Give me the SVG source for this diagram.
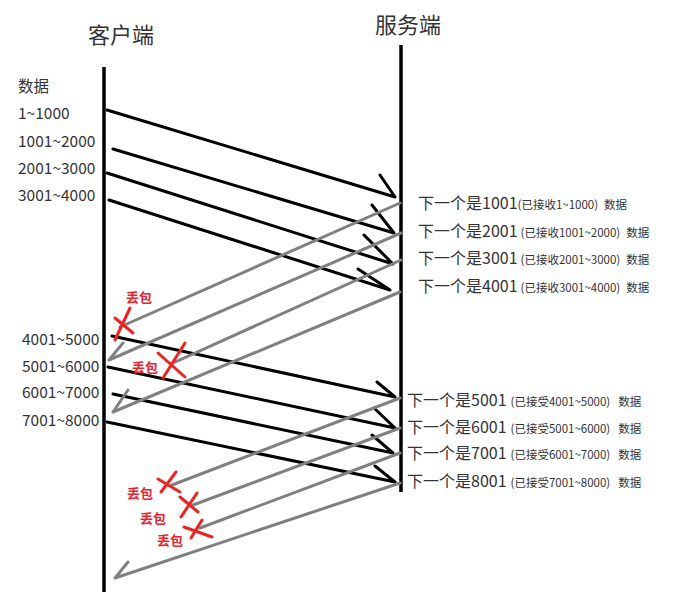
<svg xmlns="http://www.w3.org/2000/svg" width="682" height="600" viewBox="0 0 682 600">
<style>
text{font-family:"Noto Sans CJK SC","Noto Sans",sans-serif;fill:#333}
.title{font-size:22px}
.lbl{font-size:15.5px}
.ack{font-size:16px}
.sm{font-size:11.5px}
.lost{font-size:13px;font-weight:bold;fill:#e8232e}
.life{stroke:#000;stroke-width:3.5;fill:none}
.data{stroke:#000;stroke-width:3;fill:none;stroke-linecap:round}
.ackl{stroke:#808080;stroke-width:3;fill:none;stroke-linecap:round}
.x{stroke:#ee2222;stroke-width:3;fill:none;stroke-linecap:round}
</style>
<rect width="682" height="600" fill="#fff"/>
<g id="client">
<text class="title" x="88" y="43">客户端</text>
<line class="life" x1="104" y1="67" x2="104" y2="592"/>
</g>
<g id="server">
<text class="title" x="375" y="33">服务端</text>
<line class="life" x1="401" y1="45" x2="401" y2="492"/>
</g>
<g id="client-labels">
<text class="lbl" x="18" y="92">数据</text>
<text class="lbl" x="18" y="119">1~1000</text>
<text class="lbl" x="18" y="147">1001~2000</text>
<text class="lbl" x="18" y="174">2001~3000</text>
<text class="lbl" x="18" y="201">3001~4000</text>
<text class="lbl" x="22" y="345">4001~5000</text>
<text class="lbl" x="22" y="372">5001~6000</text>
<text class="lbl" x="22" y="398">6001~7000</text>
<text class="lbl" x="22" y="426">7001~8000</text>
</g>
<g id="server-labels">
<text x="418" y="209"><tspan class="ack">下一个是1001</tspan><tspan class="sm">(已接收1~1000)</tspan><tspan class="sm" dx="6">数据</tspan></text>
<text x="418" y="237"><tspan class="ack">下一个是2001</tspan><tspan class="sm" dx="3">(已接收1001~2000)</tspan><tspan class="sm" dx="6">数据</tspan></text>
<text x="418" y="264"><tspan class="ack">下一个是3001</tspan><tspan class="sm" dx="3">(已接收2001~3000)</tspan><tspan class="sm" dx="6">数据</tspan></text>
<text x="418" y="292"><tspan class="ack">下一个是4001</tspan><tspan class="sm" dx="3">(已接收3001~4000)</tspan><tspan class="sm" dx="6">数据</tspan></text>
<text x="407" y="406"><tspan class="ack">下一个是5001</tspan><tspan class="sm" dx="4">(已接受4001~5000)</tspan><tspan class="sm" dx="8">数据</tspan></text>
<text x="407" y="433"><tspan class="ack">下一个是6001</tspan><tspan class="sm" dx="4">(已接受5001~6000)</tspan><tspan class="sm" dx="8">数据</tspan></text>
<text x="407" y="459"><tspan class="ack">下一个是7001</tspan><tspan class="sm" dx="4">(已接受6001~7000)</tspan><tspan class="sm" dx="8">数据</tspan></text>
<text x="407" y="487"><tspan class="ack">下一个是8001</tspan><tspan class="sm" dx="4">(已接受7001~8000)</tspan><tspan class="sm" dx="8">数据</tspan></text>
</g>
<g id="connectors">
<path class="data" d="M107,110 L395,197 M380,175 L395,197"/>
<path class="data" d="M113,149 L394,233 M372,205 L394,233"/>
<path class="data" d="M107,173 L393,264 M364,235 L393,264"/>
<path class="data" d="M109,200 L390,290 M358,269 L390,290"/>
<path class="data" d="M112,336 L395,397 M377,382 L395,397"/>
<path class="data" d="M108,367 L395,428 M374,408 L395,428"/>
<path class="data" d="M113,394 L393,453 M372,435 L393,453"/>
<path class="data" d="M107,422 L395,482 M375,466 L395,482"/>
<path class="ackl" d="M400,203 L120,327"/>
<path class="ackl" d="M401,233 L109,360 M123,343 L109,360"/>
<path class="ackl" d="M401,260 L173,363"/>
<path class="ackl" d="M400,292 L113,412 M128,390 L113,412"/>
<path class="ackl" d="M400,398 L172,485"/>
<path class="ackl" d="M400,428 L193,505"/>
<path class="ackl" d="M400,453 L200,528"/>
<path class="ackl" d="M400,483 L115,578 M128,562 L115,578"/>
</g>
<g id="losses">
<path class="x" d="M130,308 L115,340 M115,318 L133,333"/>
<path class="x" d="M185,343 L163,378 M158,353 L185,377"/>
<path class="x" d="M176,472 L161,492 M158,479 L180,492"/>
<path class="x" d="M197,493 L181,517 M180,497 L198,512"/>
<path class="x" d="M202,520 L191,538 M184,527 L212,537"/>
<text class="lost" x="126" y="302">丢包</text>
<text class="lost" x="132" y="372">丢包</text>
<text class="lost" x="127" y="498">丢包</text>
<text class="lost" x="140" y="523">丢包</text>
<text class="lost" x="157" y="545">丢包</text>
</g>
</svg>
